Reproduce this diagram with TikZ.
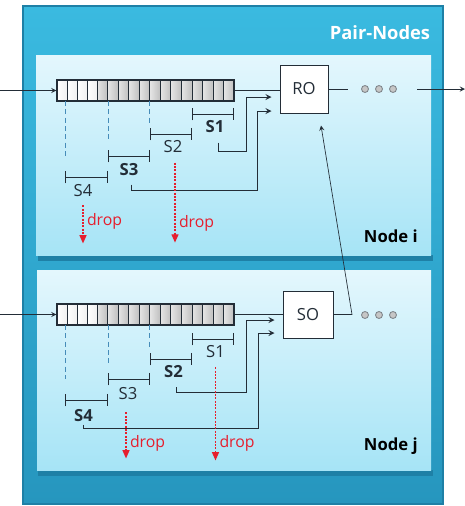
\documentclass[tikz,border=0pt]{standalone}
\usepackage{fontspec}
\setmainfont{Open Sans}
\usetikzlibrary{arrows.meta, positioning, calc}
\definecolor{pairtop}{RGB}{58,186,224}
\definecolor{pairbot}{RGB}{38,150,190}
\definecolor{pairedge}{RGB}{30,128,166}
\definecolor{nodetop}{RGB}{228,247,253}
\definecolor{nodebot}{RGB}{166,228,246}
\definecolor{ink}{RGB}{35,45,55}
\definecolor{cutblue}{RGB}{70,140,185}
\definecolor{dropred}{RGB}{230,30,45}
\tikzset{
  queue/.style={draw=ink, line width=0.7pt, minimum width=106.2pt, minimum height=12.6pt, inner sep=0pt},
  opbox/.style={draw=ink, fill=white, line width=0.6pt, inner sep=0pt, text=ink, font=\fontsize{10}{12}\selectfont},
  seg/.style={inner sep=1pt, text=ink, font=\fontsize{10}{12}\selectfont},
  segsel/.style={seg, font=\fontsize{10}{12}\selectfont\bfseries},
  segbar/.style={{Bar[width=7.5pt]}-{Bar[width=7.5pt]}, draw=ink, line width=0.6pt},
  cutline/.style={cutblue, densely dashed, line width=0.5pt},
  droparrow/.style={-{Triangle[width=4.2pt,length=5pt]}, dropred, dash pattern=on 1.2pt off 0.8pt, line width=0.8pt},
  droptext/.style={dropred, inner sep=1pt, font=\fontsize{9.5}{11}\selectfont},
  dot/.style={circle, draw=ink!60, fill=gray!45, line width=0.5pt, minimum size=4.2pt, inner sep=0pt},
  feed/.style={->, draw=ink, line width=0.6pt, shorten >=4.8pt},
  nodename/.style={inner sep=0pt, text=black, font=\fontsize{10}{12}\selectfont\bfseries, anchor=base east},
  cellw/.style={left color=white, right color=gray!12},
  cellg/.style={left color=gray!20, right color=gray!50},
}
\begin{document}
\begin{tikzpicture}[>=stealth, x=0.6pt, y=-0.6pt]
  \useasboundingbox (0,0) rectangle (465,506);
  \shade[top color=pairtop, bottom color=pairbot, draw=pairedge, line width=1.5pt] (23,6) rectangle (443,504);
  \fill[pairedge] (38,255) rectangle (433,261);
  \fill[pairedge] (38,470) rectangle (433,476);
  \shade[top color=nodetop, bottom color=nodebot] (36,55) rectangle (431,255);
  \shade[top color=nodetop, bottom color=nodebot] (37,270) rectangle (431,470);
  \node[white, font=\fontsize{11}{13}\selectfont\bfseries] (pairlabel) at (380,33) {Pair-Nodes};
  \node[nodename] (namei) at (418,242) {Node i};
  \node[nodename] (namej) at (418,450) {Node j};

  \foreach \y in {80,304} {
    \foreach \k in {0,...,3} \shade[cellw] (57+10*\k,\y) rectangle ++(10,21);
    \foreach \k in {0,...,12} \shade[cellg] (97+10.54*\k,\y) rectangle ++(10.54,21);
    \foreach \k in {1,...,3} \draw[ink, line width=0.4pt] (57+10*\k,\y) -- ++(0,21);
    \foreach \k in {0,...,12} \draw[ink, line width=0.4pt] (97+10.54*\k,\y) -- ++(0,21);
  }
  \node[queue] (qi) at (145.5,90.5) {};
  \node[queue] (qj) at (145.5,314.5) {};
  \node[opbox, minimum width=28.8pt, minimum height=28.8pt] (ro) at (304,89) {RO};
  \node[opbox, minimum width=30pt, minimum height=28.2pt] (so) at (308,314.5) {SO};

  \coordinate (ini) at (0,90.5);
  \coordinate (inj) at (0,314.5);
  \draw[->, ink] (ini) -- (qi.west);
  \draw[->, ink] (inj) -- (qj.west);
  \draw[ink, line width=0.6pt] (qi.east) -- (qi.east -| ro.west);
  \draw[ink, line width=0.6pt] (qj.east) -- (so.west);

  \coordinate (ti) at (348,89);
  \coordinate (oi) at (417,89);
  \coordinate (oe) at (465,89);
  \draw[ink] (ro.east) -- (ti);
  \draw[->, ink] (oi) -- (oe);
  \foreach \n/\x in {1/365,2/379,3/393} {
    \node[dot] (di\n) at (\x,89) {};
    \node[dot] (dj\n) at (\x,315) {};
  }
  \coordinate (tj) at (352,314.5);
  \draw[->, ink] (so.east) -- (tj) -- ([xshift=10.2pt,yshift=-7.2pt]ro.south);

  \foreach \a/\b/\y in {192/234/114, 150/192/134, 108/150/156, 65/108/177,
                        192/234/339, 150/192/359, 108/150/379, 65/108/400}
    \draw[segbar] (\a,\y) -- (\b,\y);
  \foreach \x/\y in {65/156, 108/141, 149/123} \draw[cutline] (\x,101) -- (\x,\y);
  \foreach \x/\y in {65/379, 108/364, 149/348} \draw[cutline] (\x,325) -- (\x,\y);

  \node[segsel] (s1i) at (215,126.5) {S1};
  \node[seg] (s2i) at (173,146.5) {S2};
  \node[segsel] (s3i) at (129,169.5) {S3};
  \node[seg] (s4i) at (83,191) {S4};
  \node[seg] (s1j) at (215.5,352) {S1};
  \node[segsel] (s2j) at (173.5,372) {S2};
  \node[seg] (s3j) at (128,394) {S3};
  \node[segsel] (s4j) at (83.5,416) {S4};

  \draw[feed] ([xshift=2pt,yshift=-4.8pt]s1i.south) |- (246,151) |- ([yshift=-4.8pt]ro.west);
  \draw[feed] ([xshift=1.2pt,yshift=-4.2pt]s3i.south) |- (257,190) |- ([yshift=-13.2pt]ro.west);
  \draw[feed] ([xshift=1.5pt,yshift=-4.4pt]s2j.south) |- (246,392) |- ([yshift=-3.3pt]so.west);
  \draw[feed] ([yshift=-0.5pt]s4j.south) |- (258,428) |- ([yshift=-11.1pt]so.west);

  \draw[droparrow] ([yshift=-3.8pt]s4i.south) -- ++(0,38)
    node[droptext, pos=0.43, anchor=west, xshift=1pt] (dropi1) {drop};
  \draw[droparrow] ([xshift=1.2pt,yshift=-4.8pt]s2i.south) -- ++(0,80)
    node[droptext, pos=0.76, anchor=west, xshift=1pt] (dropi2) {drop};
  \draw[droparrow] ([xshift=-1.2pt,yshift=-6.2pt]s3j.south) -- ++(0,46)
    node[droptext, pos=0.67, anchor=west, xshift=1pt] (dropj1) {drop};
  \draw[droparrow] ([yshift=-4.4pt]s1j.south) -- ++(0,93)
    node[droptext, pos=0.82, anchor=west, xshift=1pt] (dropj2) {drop};
\end{tikzpicture}
\end{document}
